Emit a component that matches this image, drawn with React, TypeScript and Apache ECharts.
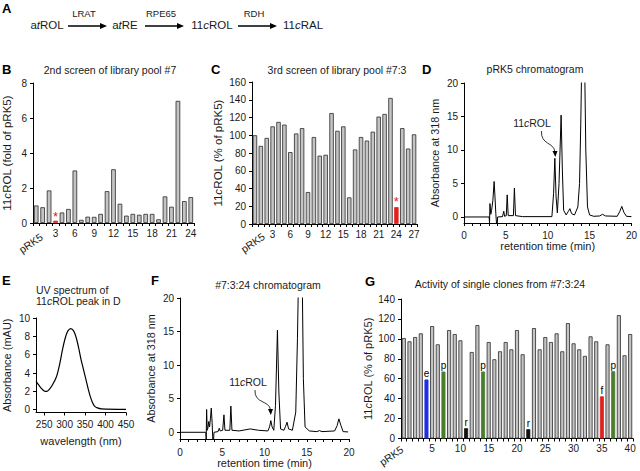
import React, { useEffect, useRef } from 'react';
import * as echarts from 'echarts';

const FONT = '"Liberation Sans", Arial, Helvetica, sans-serif';
const INK = '#1a1a1a';
const GRAY = '#c4c4c4';
const RED = '#e0221f';

// Panel B
const bCategories = ['pRK5', '1', '2', '3', '4', '5', '6', '7', '8', '9', '10', '11', '12', '13', '14', '15', '16', '17', '18', '19', '20', '21', '22', '23', '24'];
const bValues = [1.0, 0.9, 1.86, 0.13, 0.6, 0.8, 3.0, 0.18, 0.36, 0.35, 0.52, 1.82, 3.07, 1.1, 0.42, 0.52, 0.47, 0.52, 0.52, 0.21, 1.52, 0.93, 6.98, 1.25, 1.48];
const bHighlight = 3;

// Panel C
const cCategories = ['pRK5', '1', '2', '3', '4', '5', '6', '7', '8', '9', '10', '11', '12', '13', '14', '15', '16', '17', '18', '19', '20', '21', '22', '23', '24', '25', '26', '27'];
const cValues = [100, 88, 97, 110, 115, 112, 81, 102, 108, 36, 98, 77, 78, 125, 105, 110, 30, 84, 98, 94, 104, 121, 124, 142, 19, 108, 85, 101];
const cHighlight = 24;

// Panel D chromatogram (retention time, absorbance)
const dTrace = [
  [0, 0], [3.0, 0], [3.05, -0.9], [3.1, 2.0], [3.2, 0.4], [3.3, 1.0], [3.45, 2.5], [3.6, 5.3], [3.7, 3.0], [3.8, 0.5],
  [3.88, -0.9], [3.98, -0.9], [4.02, 0], [4.6, 0.05], [4.75, 0.85], [4.85, 0.1], [5.05, 0.2], [5.16, 3.3], [5.28, 0.2],
  [5.9, 0.2], [6.02, 4.3], [6.15, 0.2], [7, 0.05], [10.5, 0.05], [10.7, 3.5], [10.85, 8.76], [11.0, 3.0], [11.15, 0.6],
  [11.35, 5], [11.6, 15.2], [11.75, 7], [11.9, 1.0], [12.2, 0.3], [12.45, 0.8], [12.65, 1.24], [12.85, 0.5], [13.2, 0.3],
  [13.6, 1.5], [13.8, 5], [13.95, 14], [14.05, 22], [14.25, 35], [14.42, 22], [14.55, 10], [14.75, 1.5], [15.0, 0.3],
  [15.5, 0.1], [16.2, 0.15], [16.55, 0.4], [16.9, 0.15], [18.3, 0.1], [18.6, 0.8], [18.85, 1.58], [19.1, 0.7], [19.4, 0.1], [20, 0.05],
];

// Panel E UV spectrum (wavelength nm, mAU)
const eSpectrum = [
  [230, 3.1], [235, 2.8], [240, 2.5], [245, 2.25], [250, 2.05], [256, 2.0], [262, 2.2], [270, 2.7], [280, 3.6], [288, 5.0],
  [295, 6.6], [302, 7.9], [308, 8.6], [315, 8.85], [322, 8.6], [328, 7.9], [334, 6.8], [340, 5.5], [346, 4.4], [352, 3.3],
  [358, 2.2], [363, 1.4], [368, 0.8], [373, 0.4], [380, 0.2], [390, 0.1], [450, 0.05],
];
const eTicks = [250, 300, 350, 400, 450];
const eYTicks = [0, 2, 4, 6, 8, 10];

// Panel F chromatogram
const fTrace = [
  [0, 0], [3.05, 0], [3.1, -1], [3.15, 3.4], [3.22, 0.3], [3.3, 0.6], [3.4, 1.6], [3.5, 0.8], [3.6, 2.0], [3.7, 3.6],
  [3.8, 1.5], [3.88, -1], [3.98, -1], [4.02, 0], [4.5, 0.1], [4.65, 0.6], [4.75, 0.2], [5.05, 0.3], [5.2, 2.6], [5.32, 0.3],
  [5.9, 0.3], [6.02, 3.9], [6.15, 0.3], [7, 0.2], [8.3, 0.5], [9.3, 0.3], [10.4, 0.2], [10.6, 0.8], [10.75, 1.74], [10.9, 0.8],
  [11.1, 0.3], [11.3, 4], [11.53, 15.2], [11.7, 6], [11.9, 0.5], [12.3, 0.3], [12.5, 0.9], [12.67, 1.5], [12.85, 0.5],
  [13.3, 0.3], [13.7, 3], [13.9, 14], [14.05, 25], [14.25, 35], [14.45, 25], [14.6, 8], [14.8, 0.8], [15.3, 0.2], [16.2, 0.1],
  [16.5, 0.25], [16.8, 0.1], [18.3, 0.2], [18.6, 1.0], [18.8, 2.0], [19.05, 1.0], [19.3, 0.1], [19.9, 0.05],
];
const chromYTicks = [0, 5, 10, 15, 20];

// Panel G
const gCategories = ['pRK5', '1', '2', '3', '4', '5', '6', '7', '8', '9', '10', '11', '12', '13', '14', '15', '16', '17', '18', '19', '20', '21', '22', '23', '24', '25', '26', '27', '28', '29', '30', '31', '32', '33', '34', '35', '36', '37', '38', '39', '40'];
const gValues = [100.8, 97.5, 101.8, 105.5, 59.2, 112.8, 94.5, 67.2, 108.8, 104.8, 98.5, 10.3, 86.8, 113.8, 67.2, 96.8, 79.5, 87.5, 96.8, 89.5, 108.8, 84.5, 9.3, 110.8, 89.5, 101.8, 96.8, 105.5, 87.5, 115.8, 95.5, 89.5, 82.9, 102.5, 97.5, 42.3, 94.5, 67.5, 123.8, 83.5, 104.8];
const gMarks: Record<number, string> = { 4: 'e', 7: 'p', 11: 'r', 14: 'p', 22: 'r', 35: 'f', 37: 'p' };
const markColors: Record<string, string> = { e: '#1f2fe6', p: '#4a7d2c', r: '#111111', f: RED };

const txt = { fontFamily: FONT, color: INK };

function yAxis(gridIndex: number, min: number, max: number, name: string, nameGap: number, nameSize: number, extra: any = {}) {
  return {
    type: 'value', gridIndex, min, max, name, nameLocation: 'middle', nameRotate: 90, nameGap,
    nameTextStyle: { ...txt, fontSize: nameSize, rich: { i: { fontStyle: 'italic', fontFamily: FONT, fontSize: nameSize, color: INK } } },
    axisLine: { show: true, lineStyle: { color: '#000', width: 1 } },
    axisTick: { show: true, length: 3, lineStyle: { color: '#000' }, ...(extra.tick || {}) },
    axisLabel: { ...txt, fontSize: 10, margin: 6, ...(extra.label || {}) },
    splitLine: { show: false },
    ...(extra.axis || {}),
  };
}

function catAxis(gridIndex: number, data: string[], step: number, margin: number) {
  return {
    type: 'category', gridIndex, data, position: 'bottom',
    axisLine: { lineStyle: { color: '#000', width: 1 } },
    axisTick: { show: true, interval: 0, length: 3, lineStyle: { color: '#000' } },
    axisLabel: { ...txt, fontSize: 10, margin, interval: (i: number) => i > 0 && i % step === 0 },
    splitLine: { show: false },
  };
}

function timeAxis(gridIndex: number, margin: number, nameGap: number) {
  return {
    type: 'value', gridIndex, min: 0, max: 20, interval: 1,
    name: 'retention time (min)', nameLocation: 'middle', nameGap,
    nameTextStyle: { ...txt, fontSize: 11 },
    axisLine: { onZero: false, lineStyle: { color: '#000', width: 1 } },
    axisTick: { show: true, length: 3, lineStyle: { color: '#000' } },
    axisLabel: { ...txt, fontSize: 10, margin, formatter: (v: number) => (v % 5 === 0 ? String(v) : '') },
    splitLine: { show: false },
  };
}

function letter(t: string, x: number, y: number) {
  return { type: 'text', x, y, style: { text: t, fontFamily: FONT, fontSize: 13, fontWeight: 'bold', fill: '#000' } };
}
function label(t: string, x: number, y: number, size = 10.5, align = 'center', weight = 'normal') {
  return {
    type: 'text', x, y,
    style: { text: t, fontFamily: FONT, fontSize: size, fontWeight: weight, fill: INK, align, verticalAlign: 'middle', rich: { i: { fontStyle: 'italic', fontFamily: FONT, fontSize: size, fontWeight: weight, fill: INK } } },
  };
}
function rotLabel(t: string, x: number, y: number) {
  return {
    type: 'text', x, y, rotation: (35 * Math.PI) / 180,
    style: { text: t, fontFamily: FONT, fontSize: 10.5, fill: INK, align: 'right', verticalAlign: 'middle' },
  };
}
function arrowRight(x1: number, x2: number, y: number) {
  return [
    { type: 'line', shape: { x1, y1: y, x2: x2 - 5, y2: y }, style: { stroke: '#000', lineWidth: 1.4 } },
    { type: 'polygon', shape: { points: [[x2 - 7, y - 3], [x2, y], [x2 - 7, y + 3]] }, style: { fill: '#000' } },
  ];
}
function curvedArrow(x1: number, y1: number, x2: number, y2: number) {
  return [
    { type: 'bezierCurve', shape: { x1, y1, cpx1: x1 - 1, cpy1: y1 + 14, cpx2: x2 - 1, cpy2: y2 - 14, x2, y2: y2 - 4 }, style: { stroke: '#000', lineWidth: 0.8, fill: null } },
    { type: 'polygon', shape: { points: [[x2 - 2.5, y2 - 5], [x2 + 2.5, y2 - 5], [x2 + 0.3, y2 + 1]] }, style: { fill: '#000' } },
  ];
}

export default function App() {
  const ref = useRef<HTMLDivElement>(null);
  useEffect(() => {
    if (!ref.current) return;
    const chart = echarts.init(ref.current, null, { renderer: 'svg' });
    const barStyle = { color: GRAY, borderColor: '#2a2a2a', borderWidth: 0.8 };
    const option: any = {
      animation: false,
      backgroundColor: '#fff',
      grid: [
        { left: 31.5, top: 83, width: 162.5, height: 140 },
        { left: 252, top: 82, width: 165, height: 142 },
        { left: 464, top: 83, width: 168, height: 140 },
        { left: 32, top: 318, width: 94, height: 94.5 },
        { left: 180, top: 298, width: 169, height: 141 },
        { left: 401, top: 299, width: 232, height: 139.5 },
      ],
      xAxis: [
        catAxis(0, bCategories, 3, 5),
        catAxis(1, cCategories, 3, 5),
        timeAxis(2, 7, 16),
        {
          type: 'value', gridIndex: 3, min: 230, max: 450,
          name: 'wavelength (nm)', nameLocation: 'middle', nameGap: 23,
          nameTextStyle: { ...txt, fontSize: 11 },
          axisLine: { onZero: false, lineStyle: { color: '#000', width: 1 } },
          axisTick: { show: true, length: 3, customValues: eTicks, lineStyle: { color: '#000' } },
          axisLabel: { ...txt, fontSize: 10, margin: 7, customValues: eTicks },
          splitLine: { show: false },
        },
        timeAxis(4, 8, 18),
        catAxis(5, gCategories, 5, 5),
      ],
      yAxis: [
        yAxis(0, 0, 8, '11{i|c}ROL (fold of pRK5)', 20, 11.5, { axis: { interval: 2 } }),
        yAxis(1, 0, 160, '11{i|c}ROL (% of pRK5)', 28, 11.5, { axis: { interval: 20 } }),
        yAxis(2, -0.9, 20, 'Absorbance at 318 nm', 24, 10.8, { tick: { customValues: chromYTicks }, label: { customValues: chromYTicks } }),
        yAxis(3, -0.3, 10, 'Absorbance (mAU)', 24, 11, { tick: { customValues: eYTicks }, label: { customValues: eYTicks } }),
        yAxis(4, -1, 20, 'Absorbance at 318 nm', 24, 10.8, { tick: { customValues: chromYTicks }, label: { customValues: chromYTicks } }),
        yAxis(5, 0, 140, '11{i|c}ROL (% of pRK5)', 28, 11, { axis: { interval: 20 } }),
      ],
      series: [
        {
          type: 'bar', xAxisIndex: 0, yAxisIndex: 0, barWidth: 4.6, itemStyle: barStyle,
          data: bValues.map((v, i) => i === bHighlight
            ? { value: v, itemStyle: { color: RED, borderColor: RED }, label: { show: true, position: 'top', distance: -2, formatter: '*', color: RED, fontSize: 13, fontFamily: FONT } }
            : v),
        },
        {
          type: 'bar', xAxisIndex: 1, yAxisIndex: 1, barWidth: 4.4, itemStyle: barStyle,
          data: cValues.map((v, i) => i === cHighlight
            ? { value: v, itemStyle: { color: RED, borderColor: RED }, label: { show: true, position: 'top', distance: -1, formatter: '*', color: RED, fontSize: 13, fontFamily: FONT } }
            : v),
        },
        { type: 'line', xAxisIndex: 2, yAxisIndex: 2, data: dTrace, showSymbol: false, clip: true, lineStyle: { color: '#000', width: 1 } },
        { type: 'line', xAxisIndex: 3, yAxisIndex: 3, data: eSpectrum, showSymbol: false, smooth: 0.3, clip: true, lineStyle: { color: '#000', width: 1.2 } },
        { type: 'line', xAxisIndex: 4, yAxisIndex: 4, data: fTrace, showSymbol: false, clip: true, lineStyle: { color: '#000', width: 1 } },
        {
          type: 'bar', xAxisIndex: 5, yAxisIndex: 5, barWidth: 4, itemStyle: barStyle,
          data: gValues.map((v, i) => {
            const m = gMarks[i];
            if (!m) return v;
            const c = markColors[m];
            return { value: v, itemStyle: { color: c, borderColor: c }, label: { show: true, position: 'top', distance: 1, formatter: m, color: '#000', fontSize: 10, fontFamily: FONT } };
          }),
        },
      ],
      graphic: [
        letter('A', 2, 2),
        label('a{i|t}ROL', 47, 25, 11.5),
        ...arrowRight(68, 107, 26),
        label('a{i|t}RE', 125, 25, 11.5),
        ...arrowRight(145, 184, 26),
        label('11{i|c}ROL', 212, 25, 11.5),
        ...arrowRight(238, 277, 26),
        label('11{i|c}RAL', 303, 25, 11.5),
        label('LRAT', 84, 13, 9.5),
        label('RPE65', 161, 13, 9.5),
        label('RDH', 254, 13, 9.5),
        letter('B', 2, 63),
        letter('C', 211, 63),
        letter('D', 422, 63),
        letter('E', 2, 274),
        letter('F', 151, 274),
        letter('G', 365, 275),
        label('2nd screen of library pool #7', 110, 69.5),
        label('3rd screen of library pool #7:3', 337, 69.5),
        label('pRK5 chromatogram', 535, 68.5),
        label('UV spectrum of', 36, 290, 10.5, 'left'),
        label('11{i|c}ROL peak in D', 36, 301, 10.5, 'left'),
        label('#7:3:24 chromatogram', 268, 285),
        label('Activity of single clones from #7:3:24', 500, 283.5),
        label('11{i|c}ROL', 532, 123),
        ...curvedArrow(541.5, 131, 555, 156),
        label('11{i|c}ROL', 248, 382),
        ...curvedArrow(255, 390, 270.5, 414),
        rotLabel(bCategories[0], 41.5, 235.5),
        rotLabel(cCategories[0], 263.5, 235),
        rotLabel(gCategories[0], 402, 448),
      ],
    };
    chart.setOption(option);
    return () => chart.dispose();
  }, []);
  return <div ref={ref} style={{ position: 'absolute', left: 0, top: 0, width: 640, height: 471, background: '#fff' }} />;
}
